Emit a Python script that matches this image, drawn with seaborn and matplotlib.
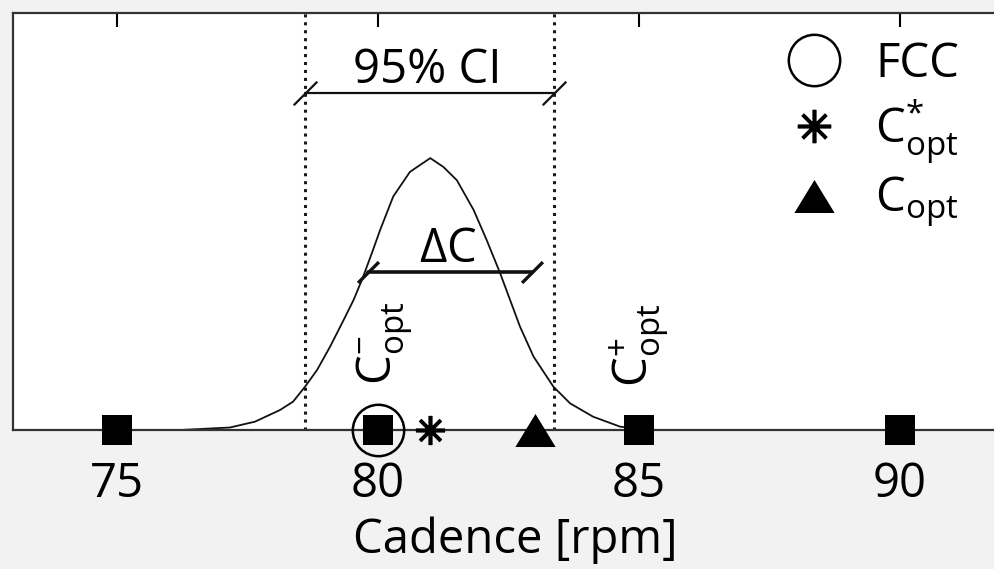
import matplotlib
matplotlib.use("Agg")
import matplotlib.pyplot as plt
from matplotlib.lines import Line2D
from matplotlib.path import Path
import seaborn as sns
import pandas as pd

# ---- data ----
cadence = [76.21, 77.16, 77.64, 78.12, 78.37, 78.60, 78.83, 79.08, 79.34, 79.53,
           79.69, 79.88, 80.04, 80.29, 80.61, 81.00, 81.25, 81.51, 81.83, 82.08,
           82.34, 82.53, 82.72, 82.98, 83.36, 83.68, 84.12, 84.64, 85.27]
density = [0.000, 0.006, 0.020, 0.048, 0.068, 0.104, 0.144, 0.200, 0.264, 0.312,
           0.360, 0.424, 0.480, 0.560, 0.619, 0.652, 0.631, 0.599, 0.528, 0.456,
           0.376, 0.312, 0.248, 0.176, 0.104, 0.064, 0.032, 0.008, 0.000]
square_cadence = [75, 80, 85, 90]
fcc_cadence = 80.0
copt_star_cadence = 81.0
copt_cadence = 83.0
ci_bounds = [78.6, 83.37]
dc_bounds = [79.8, 82.95]
xticks = [75, 80, 85, 90]
legend_labels = ["FCC", r"$\mathrm{C}^{*}_{\mathrm{opt}}$", r"$\mathrm{C}_{\mathrm{opt}}$"]
copt_minus_label = r"$\mathrm{C}_{\mathrm{opt}}^{-}$"
copt_plus_label = r"$\mathrm{C}_{\mathrm{opt}}^{+}$"

sns.set_style("white")
plt.rcParams["font.family"] = ["Open Sans", "DejaVu Sans"]
plt.rcParams["mathtext.fontset"] = "custom"
plt.rcParams["mathtext.rm"] = "Open Sans"
plt.rcParams["mathtext.it"] = "Open Sans:italic"
plt.rcParams["mathtext.bf"] = "Open Sans:bold"
plt.rcParams["text.color"] = "black"
plt.rcParams["axes.labelcolor"] = "black"

FS = 34
fig = plt.figure(figsize=(9.95, 5.69), dpi=100, facecolor="#f2f2f2")
ax = fig.add_axes([13 / 995, 139 / 569, 991 / 995, 417 / 569])
ax.set_facecolor("white")

df = pd.DataFrame({"cadence": cadence, "density": density})
sns.lineplot(data=df, x="cadence", y="density", ax=ax, color="#111111", lw=1.3)

for xb in ci_bounds:
    ax.axvline(xb, ls=(0, (1, 1.6)), lw=2.2, color="#1a1a1a", zorder=1)

slash = Path([(-1, -1), (1, 1)])
ci_y = 0.808
ax.plot(ci_bounds, [ci_y, ci_y], color="#111111", lw=1.6)
ax.plot(ci_bounds, [ci_y, ci_y], ls="none", marker=slash, ms=17, mew=1.6, mec="#111111")
ax.text(sum(ci_bounds) / 2 - 0.05, 0.833, "95% CI", ha="center", va="baseline", fontsize=FS)

dc_y = 0.379
ax.plot(dc_bounds, [dc_y, dc_y], color="#111111", lw=2.6)
ax.plot(dc_bounds, [dc_y, dc_y], ls="none", marker=slash, ms=15, mew=2.4, mec="#111111")
ax.text(81.34, 0.404, r"$\Delta$C", ha="center", va="baseline", fontsize=FS)

ax.text(80.13, 0.209, copt_minus_label, rotation=90, ha="center", va="center", fontsize=FS)
ax.text(85.0, 0.204, copt_plus_label, rotation=90, ha="center", va="center", fontsize=FS)

sns.scatterplot(x=square_cadence, y=[0] * len(square_cadence), marker="s", s=437,
                color="black", edgecolor="black", linewidth=0, ax=ax, clip_on=False,
                zorder=6, legend=False)

circle_kw = dict(marker="o", ls="none", ms=37, mfc="none", mec="black", mew=1.8)
star_kw = dict(marker=(8, 2, 0), ls="none", ms=21, mec="black", mew=2.6, color="black")
tri = Path([(-1, -0.82), (1, -0.82), (0, 0.82), (-1, -0.82)])
tri_kw = dict(marker=tri, ls="none", ms=29, color="black", mec="black", mew=0)

ax.plot([fcc_cadence], [0], clip_on=False, zorder=7, **circle_kw)
ax.plot([copt_star_cadence], [0], clip_on=False, zorder=7, **star_kw)
ax.plot([copt_cadence], [0], clip_on=False, zorder=7, **tri_kw)

handles = [Line2D([], [], **circle_kw),
           Line2D([], [], **dict(star_kw, ms=24)),
           Line2D([], [], **tri_kw)]
ax.legend(handles, legend_labels, loc="upper left", bbox_to_anchor=(0.784, 0.935),
          frameon=False, fontsize=FS, handlelength=1.0, handletextpad=0.8,
          labelspacing=0.2, borderpad=0, borderaxespad=0)

ax.set_xlim(73, 92)
ax.set_ylim(0, 1)
ax.set_xticks(xticks)
ax.set_xticklabels([str(t) for t in xticks])
ax.set_yticks([])
ax.tick_params(axis="x", direction="in", top=True, bottom=True, length=10, width=1.5,
               pad=22, labelsize=FS, colors="black")
for side in ["left", "top", "bottom", "right"]:
    ax.spines[side].set_visible(True)
    ax.spines[side].set_linewidth(1.6)
    ax.spines[side].set_color("#333333")
ax.set_ylabel("")
ax.set_xlabel("Cadence [rpm]", fontsize=FS)
ax.xaxis.set_label_coords(0.507, -0.208)

fig.savefig("out.png", dpi=100, facecolor=fig.get_facecolor())
